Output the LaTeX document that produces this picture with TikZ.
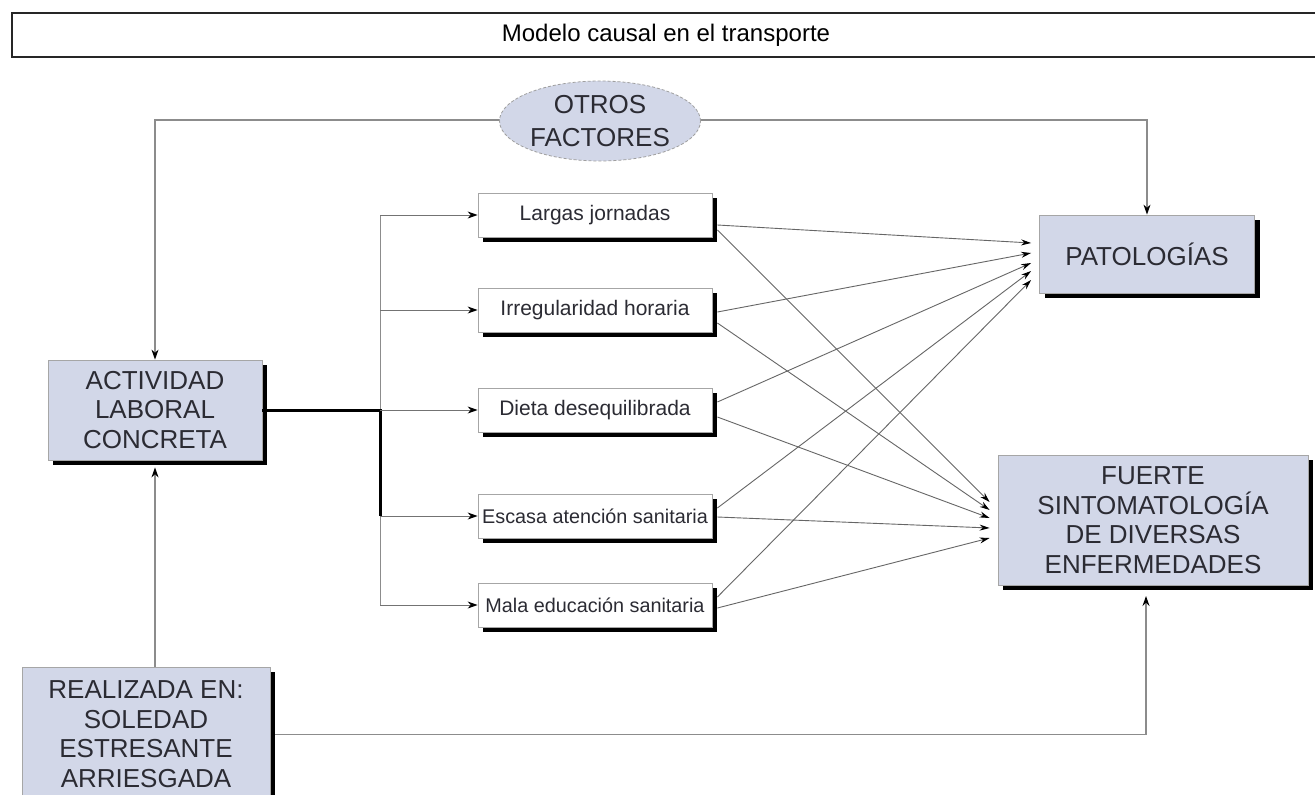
\documentclass[tikz,border=0pt]{standalone}
\usepackage{fontspec}
\setmainfont{Liberation Sans}
\usetikzlibrary{shapes.geometric,shadows,calc,arrows.meta}
\definecolor{boxfill}{HTML}{D2D7E8}
\definecolor{txt}{HTML}{2B2B33}
\definecolor{linec}{HTML}{8C8C8C}
\begin{document}
\begin{tikzpicture}[x=1pt,y=-1pt,
  bigfont/.style={font=\fontsize{26}{29.5}\selectfont},
  shad/.style={drop shadow={shadow xshift=5pt, shadow yshift=-5pt, fill=black, opacity=1}},
  bigbox/.style={draw=gray!70, line width=0.8pt, fill=boxfill, text=txt, align=center, inner sep=0pt, bigfont, shad},
  midbox/.style={draw=gray!70, line width=0.8pt, fill=white, text=txt, inner sep=0pt, minimum width=234pt, minimum height=44pt, font=\fontsize{21}{24}\selectfont, shad},
  smalltext/.style={font=\fontsize{19.8}{24}\selectfont},
  conn/.style={draw=linec, line width=1.2pt},
  arr/.style={conn, -{Stealth[length=10pt,width=7pt,color=black]}},
  thinarr/.style={draw=black!55, line width=0.9pt, -{Stealth[length=10pt,width=7pt,color=black]}},
  cross/.style={draw=black!60, line width=0.9pt, -{Stealth[length=10pt,width=6pt,color=black]}},
  thickline/.style={draw=black, line width=3pt}
]
\useasboundingbox (0,0) rectangle (1315,795);
\fill[white] (0,0) rectangle (1315,795);

% title
\node[draw=black!85, line width=1.5pt, minimum width=1308pt, minimum height=44pt, inner sep=0pt,
      font=\fontsize{24}{28}\selectfont] (title) at (666,35) {Modelo causal en el transporte};

% nodes
\node[bigbox, minimum width=214pt, minimum height=100pt] (act) at (155,410) {ACTIVIDAD\\LABORAL\\CONCRETA};
\node[bigbox, minimum width=215pt, minimum height=78pt] (pat) at (1147,254) {PATOLOGÍAS};
\node[bigbox, minimum width=310pt, minimum height=130pt] (fue) at (1153,520) {FUERTE\\SINTOMATOLOGÍA\\DE DIVERSAS\\ENFERMEDADES};
\node[bigbox, minimum width=248pt, minimum height=134pt, anchor=north] (rea) at (146,667) {REALIZADA EN:\\SOLEDAD\\ESTRESANTE\\ARRIESGADA};

\node[midbox] (lj) at (595,215) {Largas jornadas};
\node[midbox] (ih) at (595,310) {Irregularidad horaria};
\node[midbox] (dd) at (595,410) {Dieta desequilibrada};
\node[midbox, smalltext] (ea) at (595,516) {Escasa atención sanitaria};
\node[midbox, smalltext] (me) at (595,605) {Mala educación sanitaria};

% otros factores
\draw[arr] (500,120) -| (act.north);
\draw[arr] (700,120) -| (pat.north);
\node[ellipse, draw=gray!75, densely dashed, line width=0.8pt, fill=boxfill, text=txt, minimum width=201pt, minimum height=80pt, inner sep=0pt, align=center, font=\fontsize{26}{33}\selectfont] (otros) at (600,121) {OTROS\\FACTORES};

% distribution
\coordinate (j) at (380,410);
\draw[conn, line width=1pt] (lj.west -| j) -- (me.west -| j);
\draw[thickline] (act.east) -- (j) -- (ea.west -| j);
\foreach \n in {lj,ih,dd,ea,me}{
  \draw[thinarr] (\n.west -| j) -- (\n.west);
}

% bottom connections
\draw[arr] (act.south |- rea.north) -- ($(act.south)+(0,7)$);
\coordinate (fb) at (1146,596);
\draw[arr] ($(rea.east)+(5,0)$) -| (fb);

% crossing connections
\draw[cross] ($(lj.east)+(5,10)$) -- ($(pat.west)+(-8,-11)$);
\draw[cross] ($(ih.east)+(5,2)$)  -- ($(pat.west)+(-8,-1)$);
\draw[cross] ($(dd.east)+(5,-8)$) -- ($(pat.west)+(-8,9)$);
\draw[cross] ($(ea.east)+(5,-8)$) -- ($(pat.west)+(-8,17)$);
\draw[cross] ($(me.east)+(5,-8)$) -- ($(pat.west)+(-8,26)$);

\draw[cross] ($(lj.east)+(5,15)$) -- ($(fue.west)+(-8,-18)$);
\draw[cross] ($(ih.east)+(5,13)$) -- ($(fue.west)+(-8,-10)$);
\draw[cross] ($(dd.east)+(5,7)$)  -- ($(fue.west)+(-8,-2)$);
\draw[cross] ($(ea.east)+(5,1)$)  -- ($(fue.west)+(-8,8)$);
\draw[cross] ($(me.east)+(5,3)$)  -- ($(fue.west)+(-8,18)$);
\end{tikzpicture}
\end{document}
